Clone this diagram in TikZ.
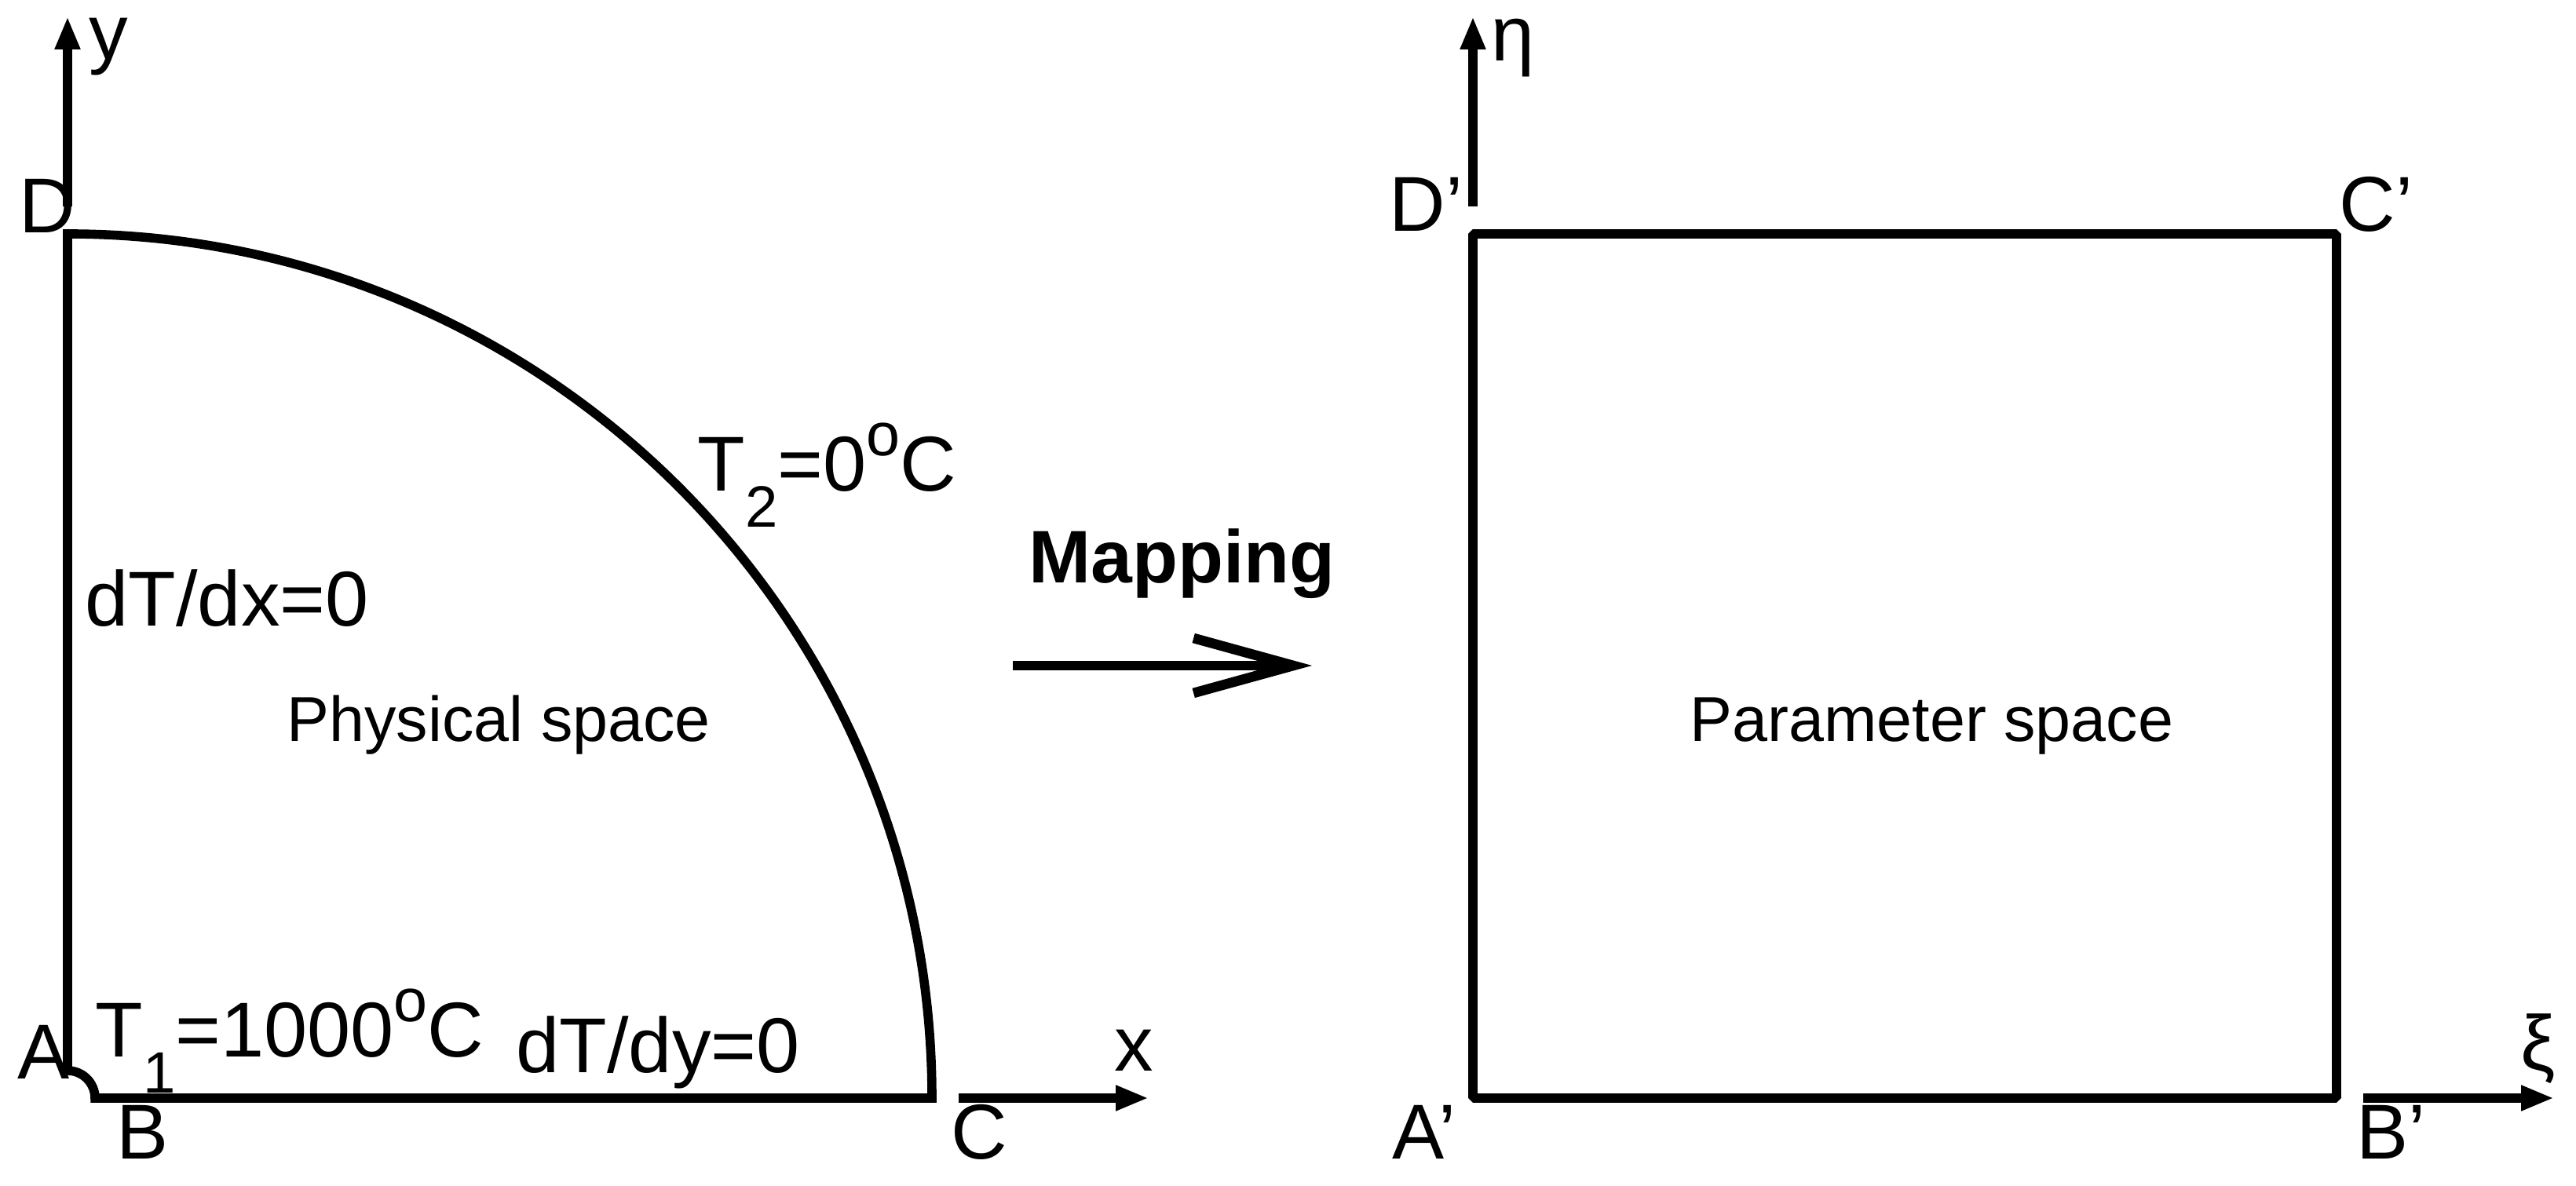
\documentclass[tikz,border=0pt]{standalone}
\usepackage{fontspec}
\setmainfont{Liberation Sans}
\usepackage{graphicx}
\usetikzlibrary{arrows.meta}

\newcommand{\lo}[1]{\raisebox{-0.46em}{\scalebox{0.75}{#1}}}
\newcommand{\hi}[1]{\raisebox{0.46em}{\scalebox{0.78}{#1}}}

\tikzset{
  lbl/.style={inner sep=0pt, anchor=base west, font=\fontsize{28.2}{34}\selectfont},
  areatext/.style={inner sep=0pt, anchor=base west, font=\fontsize{23}{28}\selectfont},
  outline/.style={line width=3.3pt},
  axis/.style={line width=3.2pt, -{Triangle[length=0.42cm,width=0.30cm]}},
}

\begin{document}
\begin{tikzpicture}
\useasboundingbox (-0.86,-1.12) rectangle (31.95,13.99);

% physical space
\draw[outline] (0,0.35) -- (0,11.01) arc[start angle=90,end angle=0,radius=11.01]
  -- (0.35,0) arc[start angle=0,end angle=90,radius=0.35] -- cycle;

% parameter space
\draw[outline,line join=bevel] (17.90,0) rectangle (28.90,11.01);

\coordinate (y0) at (0,11.36);
\coordinate (y1) at (0,13.78);
\coordinate (x0) at (11.35,0);
\coordinate (x1) at (13.77,0);
\coordinate (eta0) at (17.90,11.36);
\coordinate (eta1) at (17.90,13.78);
\coordinate (xi0) at (29.24,0);
\coordinate (xi1) at (31.67,0);
\coordinate (m0) at (12.04,5.51);
\coordinate (m1) at (15.85,5.51);

\node[lbl] (A) at (-0.64,0.24) {A};
\node[lbl] (B) at (0.62,-0.78) {B};
\node[lbl] (C) at (11.25,-0.78) {C};
\node[lbl] (D) at (-0.62,11.02) {D};
\node[lbl] (xlab) at (13.33,0.34) {x};
\node[lbl] (ylab) at (0.27,13.23) {y};

\node[lbl] (T1) at (0.35,0.52) {T\lo{1}=1000\hi{o}C};
\node[lbl] (dTdy) at (5.71,0.32) {dT/dy=0};
\node[lbl] (dTdx) at (0.22,6.01) {dT/dx=0};
\node[lbl] (T2) at (8.02,7.73) {T\lo{2}=0\hi{o}C};
\node[areatext] (phys) at (2.79,4.54) {Physical space};

\node[lbl,font=\fontsize{27}{32}\selectfont\bfseries] (map) at (12.24,6.56) {Mapping};

\node[lbl] (Ap) at (16.87,-0.78) {A’};
\node[lbl] (Bp) at (29.15,-0.78) {B’};
\node[lbl] (Cp) at (28.93,11.04) {C’};
\node[lbl] (Dp) at (16.83,11.04) {D’};
\node[lbl] (eta) at (18.13,13.21) {η};
\node[lbl] (xi) at (31.24,0.35) {ξ};
\node[areatext] (param) at (20.66,4.54) {Parameter space};

\draw[axis] (y0) -- (y1);
\draw[axis] (x0) -- (x1);
\draw[axis] (eta0) -- (eta1);
\draw[axis] (xi0) -- (xi1);
\draw[line width=3.6pt, -{Straight Barb[length=1.27cm,width=0.70cm]}] (m0) -- (m1);

\end{tikzpicture}
\end{document}
